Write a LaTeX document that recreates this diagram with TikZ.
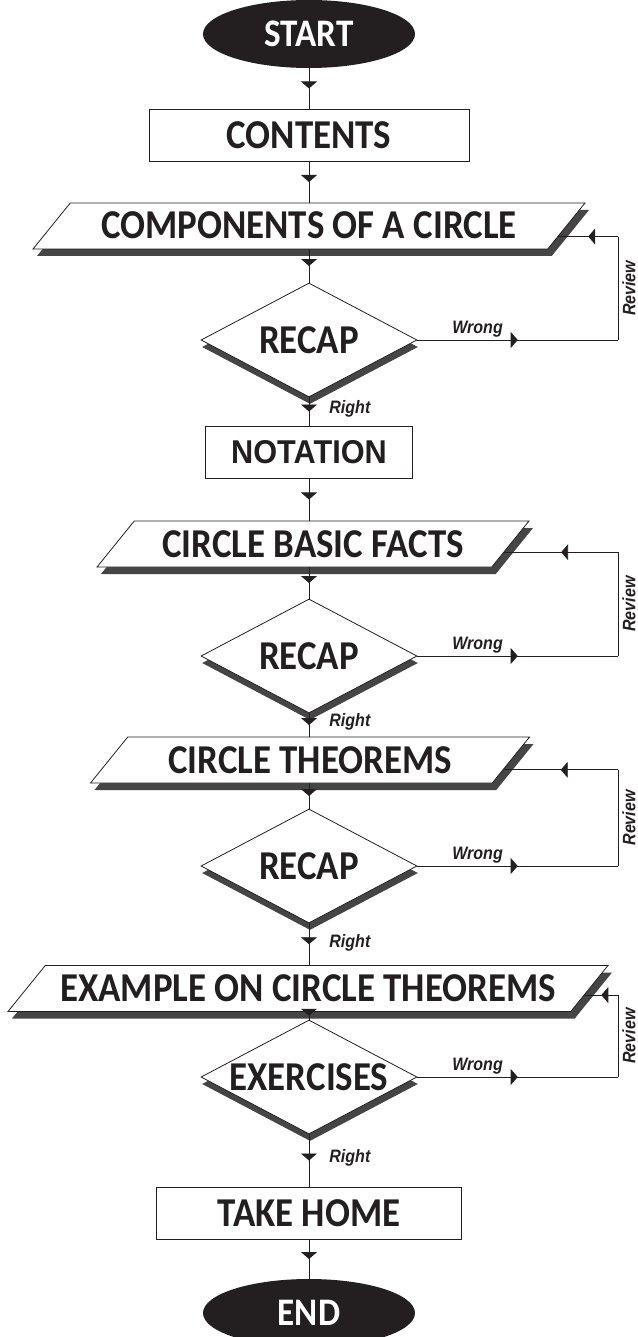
\documentclass[tikz,border=0pt]{standalone}
\usepackage{fontspec}
\setmainfont{Carlito}
\newfontfamily\boxfont{Carlito}[FakeStretch=0.9]
\newfontfamily\arial{Liberation Sans}[FakeStretch=0.89]
\newfontfamily\arialbox{Liberation Sans}[FakeStretch=0.93]
\usetikzlibrary{shapes.geometric,shadows,decorations.markings,arrows.meta,calc}

\definecolor{ink}{HTML}{231F20}
\definecolor{shade}{HTML}{454545}

\tikzset{
  flow/.style={postaction={decorate},decoration={markings,mark=at position #1 with {\arrow{Triangle[width=16pt,length=7pt]}}}},
  flow/.default=0.5,
  big/.style={font=\boxfont\fontsize{41}{44}\selectfont\bfseries, text=ink},
  terminal/.style={ellipse, fill=ink, text=white, minimum width=212pt, minimum height=68pt, inner sep=0pt, font=\boxfont\fontsize{39}{42}\selectfont\bfseries},
  process/.style={big, rectangle, draw=ink, fill=white, minimum height=52pt, inner sep=0pt},
  io/.style={big, trapezium, trapezium left angle=51, trapezium right angle=129, trapezium stretches body, draw=ink, fill=white, text height=33pt, text depth=7pt, inner xsep=1pt, inner ysep=3pt, drop shadow={shadow xshift=4pt, shadow yshift=-7pt, fill=shade, opacity=1}},
  decision/.style={big, diamond, aspect=1.88, draw=ink, fill=white, minimum width=216pt, minimum height=114pt, inner sep=0pt, drop shadow={shadow xshift=1pt, shadow yshift=-7pt, fill=shade, opacity=1}},
  tag/.style={font=\arial\fontsize{18}{20}\selectfont\bfseries\itshape, text=ink, inner sep=2pt},
  review/.style={tag, midway, anchor=north, rotate=90, inner sep=4pt},
}

\begin{document}
\begin{tikzpicture}[x=1pt, y=-1pt, line width=0.8pt, draw=ink]
  \useasboundingbox (0,0) rectangle (637,1337);

  \node[terminal] (start) at (309,34) {START};
  \node[process, minimum width=320pt] (contents) at (309,135) {CONTENTS};
  \node[io, minimum width=552pt] (comp) at (309,226) {COMPONENTS OF A CIRCLE};
  \node[decision] (recap1) at (309,340) {RECAP};
  \node[process, minimum width=207pt, font=\arialbox\fontsize{33}{36}\selectfont\bfseries] (notation) at (309,452) {NOTATION};
  \node[io, minimum width=432pt] (basic) at (313,544) {CIRCLE BASIC FACTS};
  \node[decision] (recap2) at (309,656) {RECAP};
  \node[io, minimum width=439pt] (theorems) at (310,760) {CIRCLE THEOREMS};
  \node[decision] (recap3) at (309,866) {RECAP};
  \node[io, minimum width=600pt] (example) at (308,988.5) {EXAMPLE ON CIRCLE THEOREMS};
  \node[decision] (exercises) at (309,1077) {\makebox[0pt]{EXERCISES}};
  \node[process, minimum width=305pt] (takehome) at (309,1213) {TAKE HOME};
  \node[terminal] (end) at (309,1313) {END};

  \draw[flow] (start.south) -- (contents.north);
  \draw[flow] (contents.south) -- (contents.south |- comp.north);
  \draw[flow] (recap1.north |- comp.south) -- (recap1.north);
  \draw[flow] (recap1.south) -- node[tag, anchor=west, xshift=18pt, yshift=3pt] {Right} (notation.north);
  \draw[flow] (notation.south) -- (notation.south |- basic.north);
  \draw[flow] (recap2.north |- basic.south) -- (recap2.north);
  \draw[flow] (recap2.south) -- node[tag, anchor=west, xshift=18pt, yshift=3pt] {Right} (recap2.south |- theorems.north);
  \draw[flow] (recap3.north |- theorems.south) -- (recap3.north);
  \draw[flow] (recap3.south) -- node[tag, anchor=west, xshift=18pt, yshift=1pt] {Right} (recap3.south |- example.north);
  \draw[flow] (exercises.north |- example.south) -- (exercises.north);
  \draw[flow] (exercises.south) -- node[tag, anchor=west, xshift=18pt, yshift=3pt] {Right} (takehome.north);
  \draw[flow] (takehome.south) -- (end.north);

  \coordinate (rv) at (618,0);
  \coordinate (in1) at ($(comp.east)!0.45!(comp.bottom right corner)$);
  \coordinate (in2) at ($(basic.east)!0.35!(basic.bottom right corner)$);
  \coordinate (in3) at ($(theorems.east)!0.42!(theorems.bottom right corner)$);
  \coordinate (in4) at ($(example.east)!0.28!(example.bottom right corner)$);

  \draw[flow] (recap1.east) -- node[tag, pos=0.3, above] {Wrong} (recap1.east -| rv);
  \draw (recap1.east -| rv) -- node[review] {Review} (in1 -| rv);
  \draw[flow] (in1 -| rv) -- (in1);

  \draw[flow] (recap2.east) -- node[tag, pos=0.3, above] {Wrong} (recap2.east -| rv);
  \draw (recap2.east -| rv) -- node[review] {Review} (in2 -| rv);
  \draw[flow] (in2 -| rv) -- (in2);

  \draw[flow] (recap3.east) -- node[tag, pos=0.3, above] {Wrong} (recap3.east -| rv);
  \draw (recap3.east -| rv) -- node[review] {Review} (in3 -| rv);
  \draw[flow] (in3 -| rv) -- (in3);

  \draw[flow] (exercises.east) -- node[tag, pos=0.3, above] {Wrong} (exercises.east -| rv);
  \draw (exercises.east -| rv) -- node[review] {Review} (in4 -| rv);
  \draw[flow] (in4 -| rv) -- (in4);
\end{tikzpicture}
\end{document}
